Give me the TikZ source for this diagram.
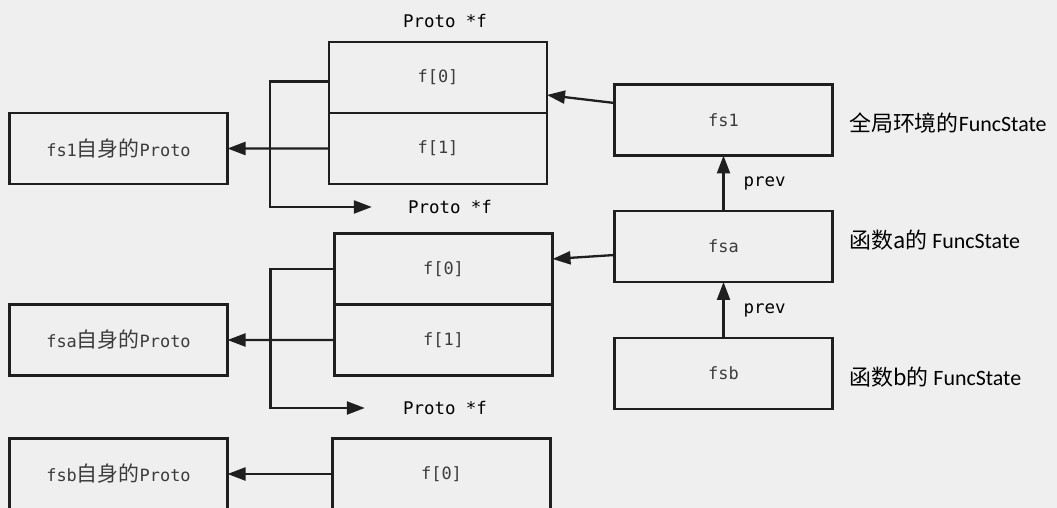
\documentclass[tikz,border=0pt]{standalone}
\usepackage{fontspec}
\setmonofont{DejaVu Sans Mono}
\setsansfont{Carlito}
\newfontfamily\cjk{Noto Sans CJK SC}
\usetikzlibrary{arrows.meta,positioning}
\definecolor{FsInk}{HTML}{1F1F1F}
\definecolor{FsText}{HTML}{3C3C3C}
\definecolor{FsPaper}{HTML}{EFEFEF}
\newcommand{\zh}[1]{{\cjk\fontsize{21}{24}\selectfont #1}}
\tikzset{
  cell/.style={draw=FsInk,line width=2.3bp,minimum width=218bp,minimum height=71bp,
    inner sep=0pt,outer sep=0pt,text=FsText,font=\ttfamily\fontsize{17}{20}\selectfont},
  ptr/.style={draw=FsInk,line width=2.3bp,-{Triangle[length=18bp,width=13bp]}},
  ptrname/.style={inner sep=0pt,text=black,font=\ttfamily\fontsize{17.5}{20}\selectfont},
  note/.style={anchor=west,inner sep=0pt,font=\sffamily\fontsize{22}{26}\selectfont}
}

\begin{document}
\begin{tikzpicture}[x=1bp,y=-1bp]
        \useasboundingbox (0,0) rectangle (1057,508);
        \clip (0,0) rectangle (1057,508);
        \fill[FsPaper] (0,0) rectangle (1057,508);

        % Proto arrays
        \node[ptrname] (lbl1) at (445,21) {Proto *f};
        \node[cell] (p1a) at (438,77.5) {f[0]};
        \node[cell,anchor=north] (p1b) at (p1a.south) {f[1]};

        \node[ptrname] (lbl2) at (450,207) {Proto *f};
        \node[cell] (p2a) at (443.5,269) {f[0]};
        \node[cell,anchor=north] (p2b) at (p2a.south) {f[1]};

        \node[ptrname] (lbl3) at (445,408) {Proto *f};
        \node[cell] (p3a) at (441.5,474) {f[0]};

        % own Protos
        \node[cell] (fs1own) at (118.5,148.5) {fs1\zh{自身的}Proto};
        \node[cell] (fsaown) at (118.5,340) {fsa\zh{自身的}Proto};
        \node[cell] (fsbown) at (118.5,474) {fsb\zh{自身的}Proto};

        % FuncState chain
        \node[cell] (fs1) at (723.5,120) {fs1};
        \node[cell] (fsa) at (723.5,246.5) {fsa};
        \node[cell] (fsb) at (723.5,373.5) {fsb};

        \node[note] (n1) at (849,123) {{\cjk 全局环境的}FuncState};
        \node[note] (n2) at (849,240) {{\cjk 函数a的} FuncState};
        \node[note] (n3) at (849,377) {{\cjk 函数b的} FuncState};

        \draw[ptr] (fsa) -- (fs1)
          node[ptrname,midway,anchor=west,xshift=19bp] {prev};
        \draw[ptr] (fsb) -- (fsa)
          node[ptrname,midway,anchor=west,xshift=19bp] {prev};

        \draw[ptr] ([yshift=17bp]fs1.west) -- ([yshift=-17.5bp]p1a.east);
        \draw[ptr] ([yshift=-8.5bp]fsa.west) -- ([yshift=10bp]p2a.east);

        \draw[ptr] (p1b.west) -- (fs1own.east);
        \draw[ptr] (p2b.west) -- (fsaown.east);
        \draw[ptr] (p3a.west) -- (fsbown.east);

        \draw[ptr] ([yshift=-4bp]p1a.west) -- ++(-59,0) |- ([xshift=-36bp]lbl2.west);
        \draw[ptr] (p2a.west) -- ++(-64,0) |- ([xshift=-38bp]lbl3.west);
      \end{tikzpicture}
\end{document}
